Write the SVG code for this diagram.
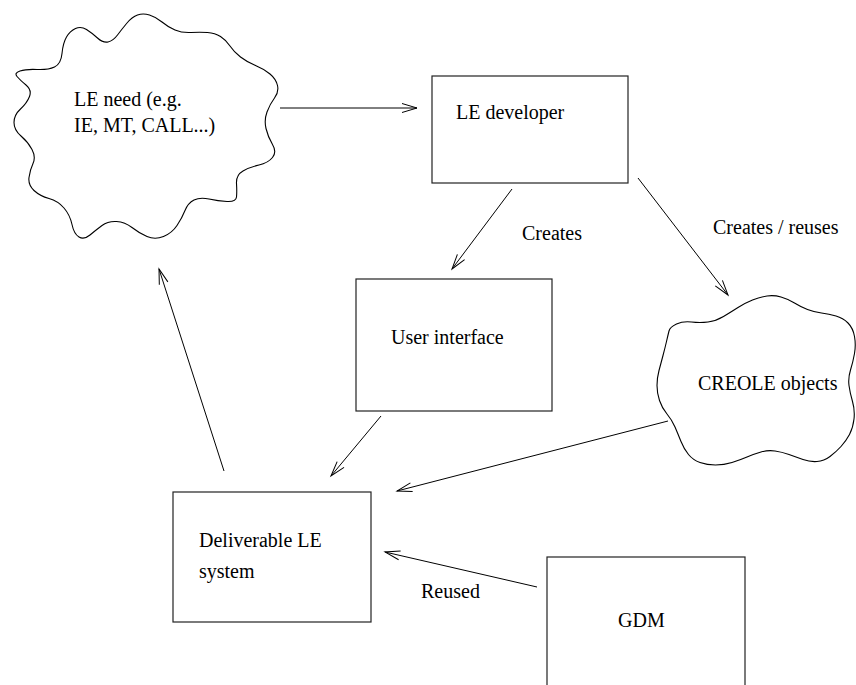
<svg xmlns="http://www.w3.org/2000/svg" width="856" height="685" viewBox="0 0 856 685">
<style>
.box{fill:none;stroke:#222;stroke-width:1.2}
.cloud{fill:none;stroke:#000;stroke-width:1.1}
.edge{fill:none;stroke:#000;stroke-width:1;marker-end:url(#arr)}
text{font-family:"Liberation Serif","Times New Roman",serif;font-size:20px;fill:#000}
</style>
<defs>
<marker id="arr" markerUnits="userSpaceOnUse" markerWidth="18" markerHeight="12" refX="15" refY="5" orient="auto" overflow="visible">
<path d="M0,0.5 L15,5 L0,9.5" fill="none" stroke="#000" stroke-width="1"/>
</marker>
</defs>
<rect width="856" height="685" fill="#fff"/>
<g id="le-need">
<path class="cloud" d="M54.5,67 Q61,64 62,53.5 Q63,43 66.5,37 Q70,31 75.5,28.5 Q81,26 86.5,29.5 Q92,33 97.5,38 Q103,43 108,42 Q113,41 117.5,35 Q122,29 127,23 Q132,17 137.5,15 Q143,13 149.5,15 Q156,17 162,22 Q168,27 175,30 Q182,33 191,32.5 Q200,32 207.5,32.5 Q215,33 220.5,36.5 Q226,40 230,46 Q234,52 240.5,57 Q247,62 255.5,65.5 Q264,69 270,74 Q276,79 277.5,85.5 Q279,92 274.5,98 Q270,104 267,112 Q264,120 266,128.5 Q268,137 272.5,144.5 Q277,152 272.5,157.5 Q268,163 259,165 Q250,167 243,171 Q236,175 236.5,183.5 Q237,192 236.5,197 Q236,202 227,201.5 Q218,201 209,199 Q200,197 194,200 Q188,203 185,210.5 Q182,218 177,225.5 Q172,233 163.5,236.5 Q155,240 147,236.5 Q139,233 132,227.5 Q125,222 116.5,221.5 Q108,221 102,225.5 Q96,230 90,235 Q84,240 79,237 Q74,234 72,224.5 Q70,215 64,208 Q58,201 49,198.5 Q40,196 34,190.5 Q28,185 29,177.5 Q30,170 33,163.5 Q36,157 32,149.5 Q28,142 21,136 Q14,130 14,122.5 Q14,115 20.5,109 Q27,103 29.5,96.5 Q32,90 26,85 Q20,80 17,76.5 Q14,73 20,71 Q26,69 37,69.5 Q48,70 54.5,67 Z"/>
<text x="74" y="106">LE need (e.g.</text>
<text x="74" y="132">IE, MT, CALL...)</text>
</g>
<g id="le-developer">
<rect class="box" x="432" y="76" width="196" height="107"/>
<text x="456" y="119">LE developer</text>
</g>
<g id="user-interface">
<rect class="box" x="356" y="279" width="196" height="132"/>
<text x="391" y="344">User interface</text>
</g>
<g id="creole-objects">
<path class="cloud" d="M669,331 Q670,327 676.5,324 Q683,321 691.5,322 Q700,323 708,322 Q716,321 723.5,316.5 Q731,312 738,307.5 Q745,303 752.5,300 Q760,297 767,296 Q774,295 781,297 Q788,299 794.5,303 Q801,307 807.5,309.5 Q814,312 821.5,313 Q829,314 836,316 Q843,318 848,323 Q853,328 854.5,336.5 Q856,345 854.5,353.5 Q853,362 850.5,370 Q848,378 849,385.5 Q850,393 852.5,401.5 Q855,410 854,419 Q853,428 849.5,434.5 Q846,441 841,446.5 Q836,452 830,456.5 Q824,461 817,461.5 Q810,462 803,459.5 Q796,457 789,454.5 Q782,452 775,451 Q768,450 761,452 Q754,454 747,457 Q740,460 732,462.5 Q724,465 715.5,465 Q707,465 700,462.5 Q693,460 688.5,454.5 Q684,449 681,441.5 Q678,434 675,427 Q672,420 667,414 Q662,408 659.5,400.5 Q657,393 657,385.5 Q657,378 659,370.5 Q661,363 663,355.5 Q665,348 666.5,341.5 Q668,335 669,331 Z"/>
<text x="698" y="390">CREOLE objects</text>
</g>
<g id="deliverable">
<rect class="box" x="173" y="492" width="198" height="130"/>
<text x="199" y="547">Deliverable LE</text>
<text x="199" y="578">system</text>
</g>
<g id="gdm">
<rect class="box" x="547" y="557" width="198" height="140"/>
<text x="618" y="627">GDM</text>
</g>
<g id="connectors">
<line class="edge" x1="280" y1="108" x2="417" y2="108"/>
<line class="edge" x1="512" y1="189" x2="452" y2="269"/>
<line class="edge" x1="638" y1="178" x2="728" y2="295"/>
<line class="edge" x1="381" y1="416" x2="331" y2="476"/>
<line class="edge" x1="668" y1="421" x2="397" y2="491"/>
<line class="edge" x1="224" y1="471" x2="159" y2="269"/>
<line class="edge" x1="537" y1="587" x2="385" y2="552"/>
<text x="522" y="240">Creates</text>
<text x="713" y="234">Creates / reuses</text>
<text x="421" y="598">Reused</text>
</g>
</svg>
